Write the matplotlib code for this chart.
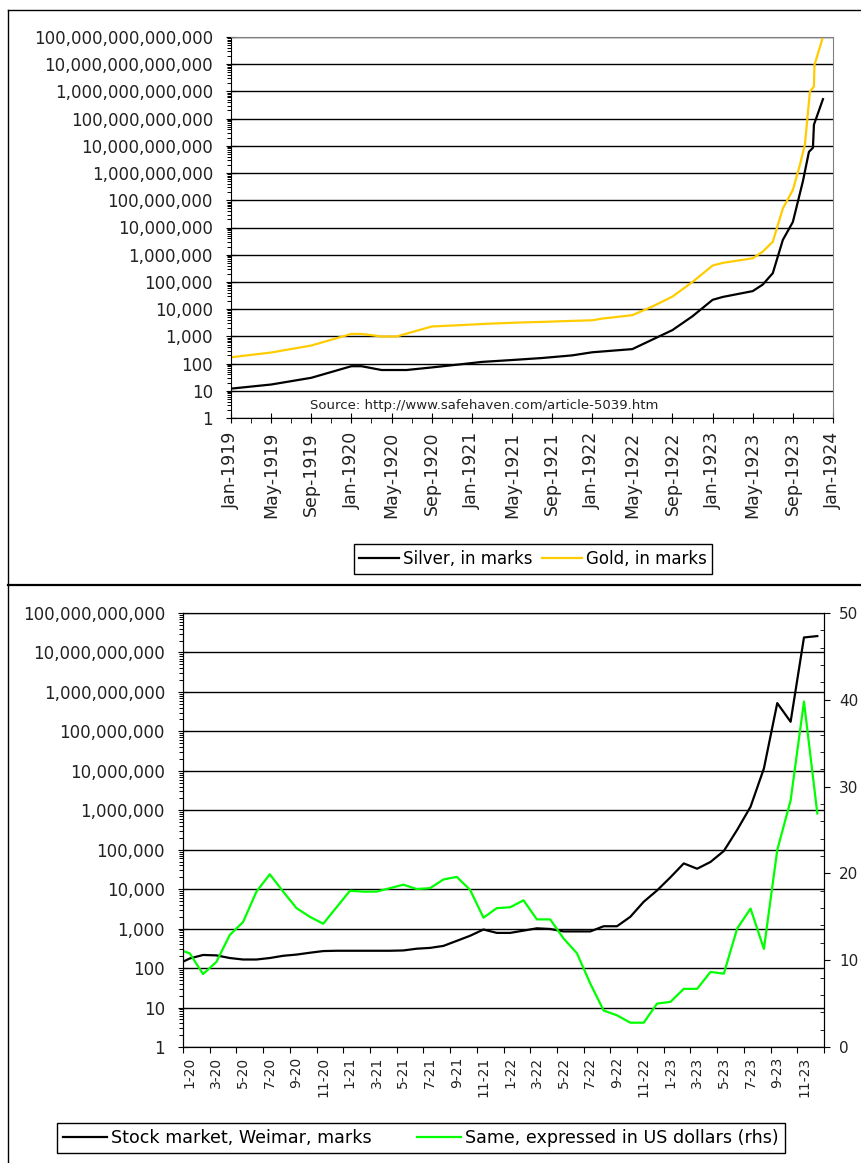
import matplotlib
matplotlib.use('Agg')
import matplotlib.pyplot as plt
from matplotlib.ticker import FixedLocator, LogLocator, NullFormatter, FuncFormatter, MultipleLocator
from matplotlib.lines import Line2D

plt.rcParams['font.family'] = 'DejaVu Sans'
plt.rcParams['xtick.labelcolor'] = '#222222'
plt.rcParams['ytick.labelcolor'] = '#222222'

# ---- top chart: prices in marks, x = months since Jan-1919 ----
silver_months = [0, 4, 8, 12, 13, 15, 17.5, 20, 23, 25, 28, 31, 34, 36, 40, 42, 44, 46,
                 48, 49, 52, 53, 54, 55, 56, 57, 57.6, 58.0, 58.1, 59.0]
silver_marks = [12, 17, 30, 80, 80, 58, 58, 72, 95, 115, 135, 160, 200, 260, 340, 760, 1700, 5500,
                22000, 28000, 46000, 80000, 210000, 3.5e6, 1.6e7, 5e8, 6e9, 8.5e9, 6e10, 5.2e11]

gold_months = [0, 4, 8, 12, 13, 15, 16.5, 20, 23, 25.5, 28.5, 31, 33.5, 36, 37, 40, 42, 44, 46,
               48, 49, 52, 53, 54, 55, 56, 56.7, 57.2, 57.7, 58.1, 58.15, 59.0]
gold_marks = [170, 255, 460, 1230, 1230, 990, 990, 2300, 2600, 2900, 3200, 3400, 3650, 3900, 4500,
              6000, 12500, 29000, 100000, 400000, 500000, 740000, 1.3e6, 3.0e6, 5e7, 2.4e8, 2e9,
              1.1e10, 1e12, 1.5e12, 9.3e12, 1e14]

top_ticks = list(range(0, 61, 4))
top_tick_labels = ['Jan-1919', 'May-1919', 'Sep-1919', 'Jan-1920', 'May-1920', 'Sep-1920',
                   'Jan-1921', 'May-1921', 'Sep-1921', 'Jan-1922', 'May-1922', 'Sep-1922',
                   'Jan-1923', 'May-1923', 'Sep-1923', 'Jan-1924']

# ---- bottom chart: monthly, Dec-1919 .. Dec-1923 (first value falls off the left edge) ----
stock_marks = [120, 175, 215, 210, 180, 165, 165, 180, 205, 220, 245, 270, 275, 275, 275, 275,
               275, 280, 310, 325, 365, 490, 660, 950, 780, 780, 890, 1020, 980, 850, 850, 850,
               1150, 1150, 2000, 4800, 9300, 20000, 45000, 33000, 49000, 93000, 320000, 1.23e6,
               1.15e7, 5.2e8, 1.75e8, 2.4e10, 2.6e10]
stock_usd = [11.3, 10.8, 8.4, 9.8, 12.9, 14.4, 17.9, 19.9, 17.9, 16.0, 15.0, 14.2, 16.1, 18.0,
             17.9, 17.9, 18.3, 18.7, 18.2, 18.3, 19.3, 19.6, 18.1, 14.9, 16.0, 16.1, 16.9, 14.7,
             14.7, 12.5, 10.8, 7.3, 4.2, 3.65, 2.8, 2.8, 5.0, 5.2, 6.7, 6.7, 8.65, 8.45, 13.65,
             15.95, 11.3, 22.7, 28.4, 39.8, 26.9]
month_labels = ['1-20', '3-20', '5-20', '7-20', '9-20', '11-20', '1-21', '3-21', '5-21', '7-21',
                '9-21', '11-21', '1-22', '3-22', '5-22', '7-22', '9-22', '11-22', '1-23', '3-23',
                '5-23', '7-23', '9-23', '11-23']

W, H = 861, 1163
fig = plt.figure(figsize=(W / 100, H / 100), dpi=100)

# panel frames
def fline(x0, y0, x1, y1, lw=1.0):
    fig.add_artist(Line2D([x0 / W, x1 / W], [1 - y0 / H, 1 - y1 / H],
                          transform=fig.transFigure, color='black', lw=lw))

fline(8, 10, 8, H)
fline(8, 10, W, 10)
fline(8, 585, W, 585, lw=1.6)

fmt = FuncFormatter(lambda v, p: f'{int(round(v)):,}')

# ---------------- top ----------------
ax1 = fig.add_axes([231 / W, 1 - 418 / H, 602 / W, 381 / H])
l1, = ax1.plot(silver_months, silver_marks, color='black', lw=1.6, label='Silver, in marks')
l2, = ax1.plot(gold_months, gold_marks, color='#FFCC00', lw=1.6, label='Gold, in marks')
ax1.set_yscale('log')
ax1.set_ylim(1, 1e14)
ax1.set_xlim(0, 60)
ax1.yaxis.set_major_locator(FixedLocator([10 ** k for k in range(15)]))
ax1.yaxis.set_minor_locator(LogLocator(base=10, subs=range(2, 10), numticks=200))
ax1.yaxis.set_minor_formatter(NullFormatter())
ax1.yaxis.set_major_formatter(fmt)
ax1.grid(axis='y', which='major', color='black', lw=1)
ax1.set_xticks(top_ticks)
ax1.set_xticklabels(top_tick_labels, rotation=90)
ax1.set_xticks(range(0, 61, 2), minor=True)
ax1.tick_params(axis='y', which='major', direction='inout', length=7, pad=9.5, labelsize=12)
ax1.tick_params(axis='y', which='minor', direction='out', length=3, width=0.7)
ax1.tick_params(axis='x', which='major', direction='inout', length=7, pad=6.5, labelsize=12.5)
ax1.tick_params(axis='x', which='minor', direction='out', length=3.5)
for s in ['top', 'right']:
    ax1.spines[s].set_color('#808080')
ax1.text(0.42, 0.034, 'Source: http://www.safehaven.com/article-5039.htm',
         transform=ax1.transAxes, ha='center', va='center', fontsize=9.5, color='#222222')

leg1 = fig.legend([l1, l2], ['Silver, in marks', 'Gold, in marks'], loc='center',
                  bbox_to_anchor=(533 / W, 1 - 559 / H), ncol=2, fontsize=12,
                  frameon=True, fancybox=False, edgecolor='black', framealpha=1,
                  handlelength=2.4, handletextpad=0.2, columnspacing=0.6, borderpad=0.35)
leg1.get_frame().set_linewidth(1.0)

# ---------------- bottom ----------------
xs = [i + 0.5 for i in range(-1, len(stock_marks) - 1)]

ax2 = fig.add_axes([183 / W, 1 - 1047 / H, 641 / W, 434 / H])
l3, = ax2.plot(xs, stock_marks, color='black', lw=1.6)
ax2.set_yscale('log')
ax2.set_ylim(1, 1e11)
ax2.set_xlim(0, 48)
ax2.yaxis.set_major_locator(FixedLocator([10 ** k for k in range(12)]))
ax2.yaxis.set_minor_locator(LogLocator(base=10, subs=range(2, 10), numticks=200))
ax2.yaxis.set_minor_formatter(NullFormatter())
ax2.yaxis.set_major_formatter(fmt)
ax2.grid(axis='y', which='major', color='black', lw=1)
ax2.set_xticks(range(0, 49, 2))
ax2.set_xticklabels([])
ax2.set_xticks([i + 0.5 for i in range(0, 48, 2)], minor=True)
ax2.set_xticklabels(month_labels, minor=True, rotation=90)
ax2.tick_params(axis='y', which='major', direction='inout', length=7, pad=9.5, labelsize=12)
ax2.tick_params(axis='y', which='minor', direction='out', length=3, width=0.7)
ax2.tick_params(axis='x', which='major', direction='out', length=4)
ax2.tick_params(axis='x', which='minor', length=0, pad=7, labelsize=10)

ax3 = ax2.twinx()
l4, = ax3.plot(xs, stock_usd, color='#00FF00', lw=1.6)
ax3.set_ylim(0, 50)
ax3.set_xlim(0, 48)
ax3.yaxis.set_major_locator(MultipleLocator(10))
ax3.yaxis.set_minor_locator(MultipleLocator(2))
ax3.tick_params(axis='y', which='major', direction='out', length=4, pad=7, labelsize=11)
ax3.tick_params(axis='y', which='minor', direction='in', length=3)

leg2 = fig.legend([l3, l4], ['Stock market, Weimar, marks', 'Same, expressed in US dollars (rhs)'],
                  loc='center', bbox_to_anchor=(421 / W, 1 - 1138 / H), ncol=2, fontsize=12.6,
                  frameon=True, fancybox=False, edgecolor='black', framealpha=1,
                  handlelength=2.5, handletextpad=0.25, columnspacing=2.6, borderpad=0.35)
leg2.get_frame().set_linewidth(1.0)

fig.savefig('out.png', dpi=100)
